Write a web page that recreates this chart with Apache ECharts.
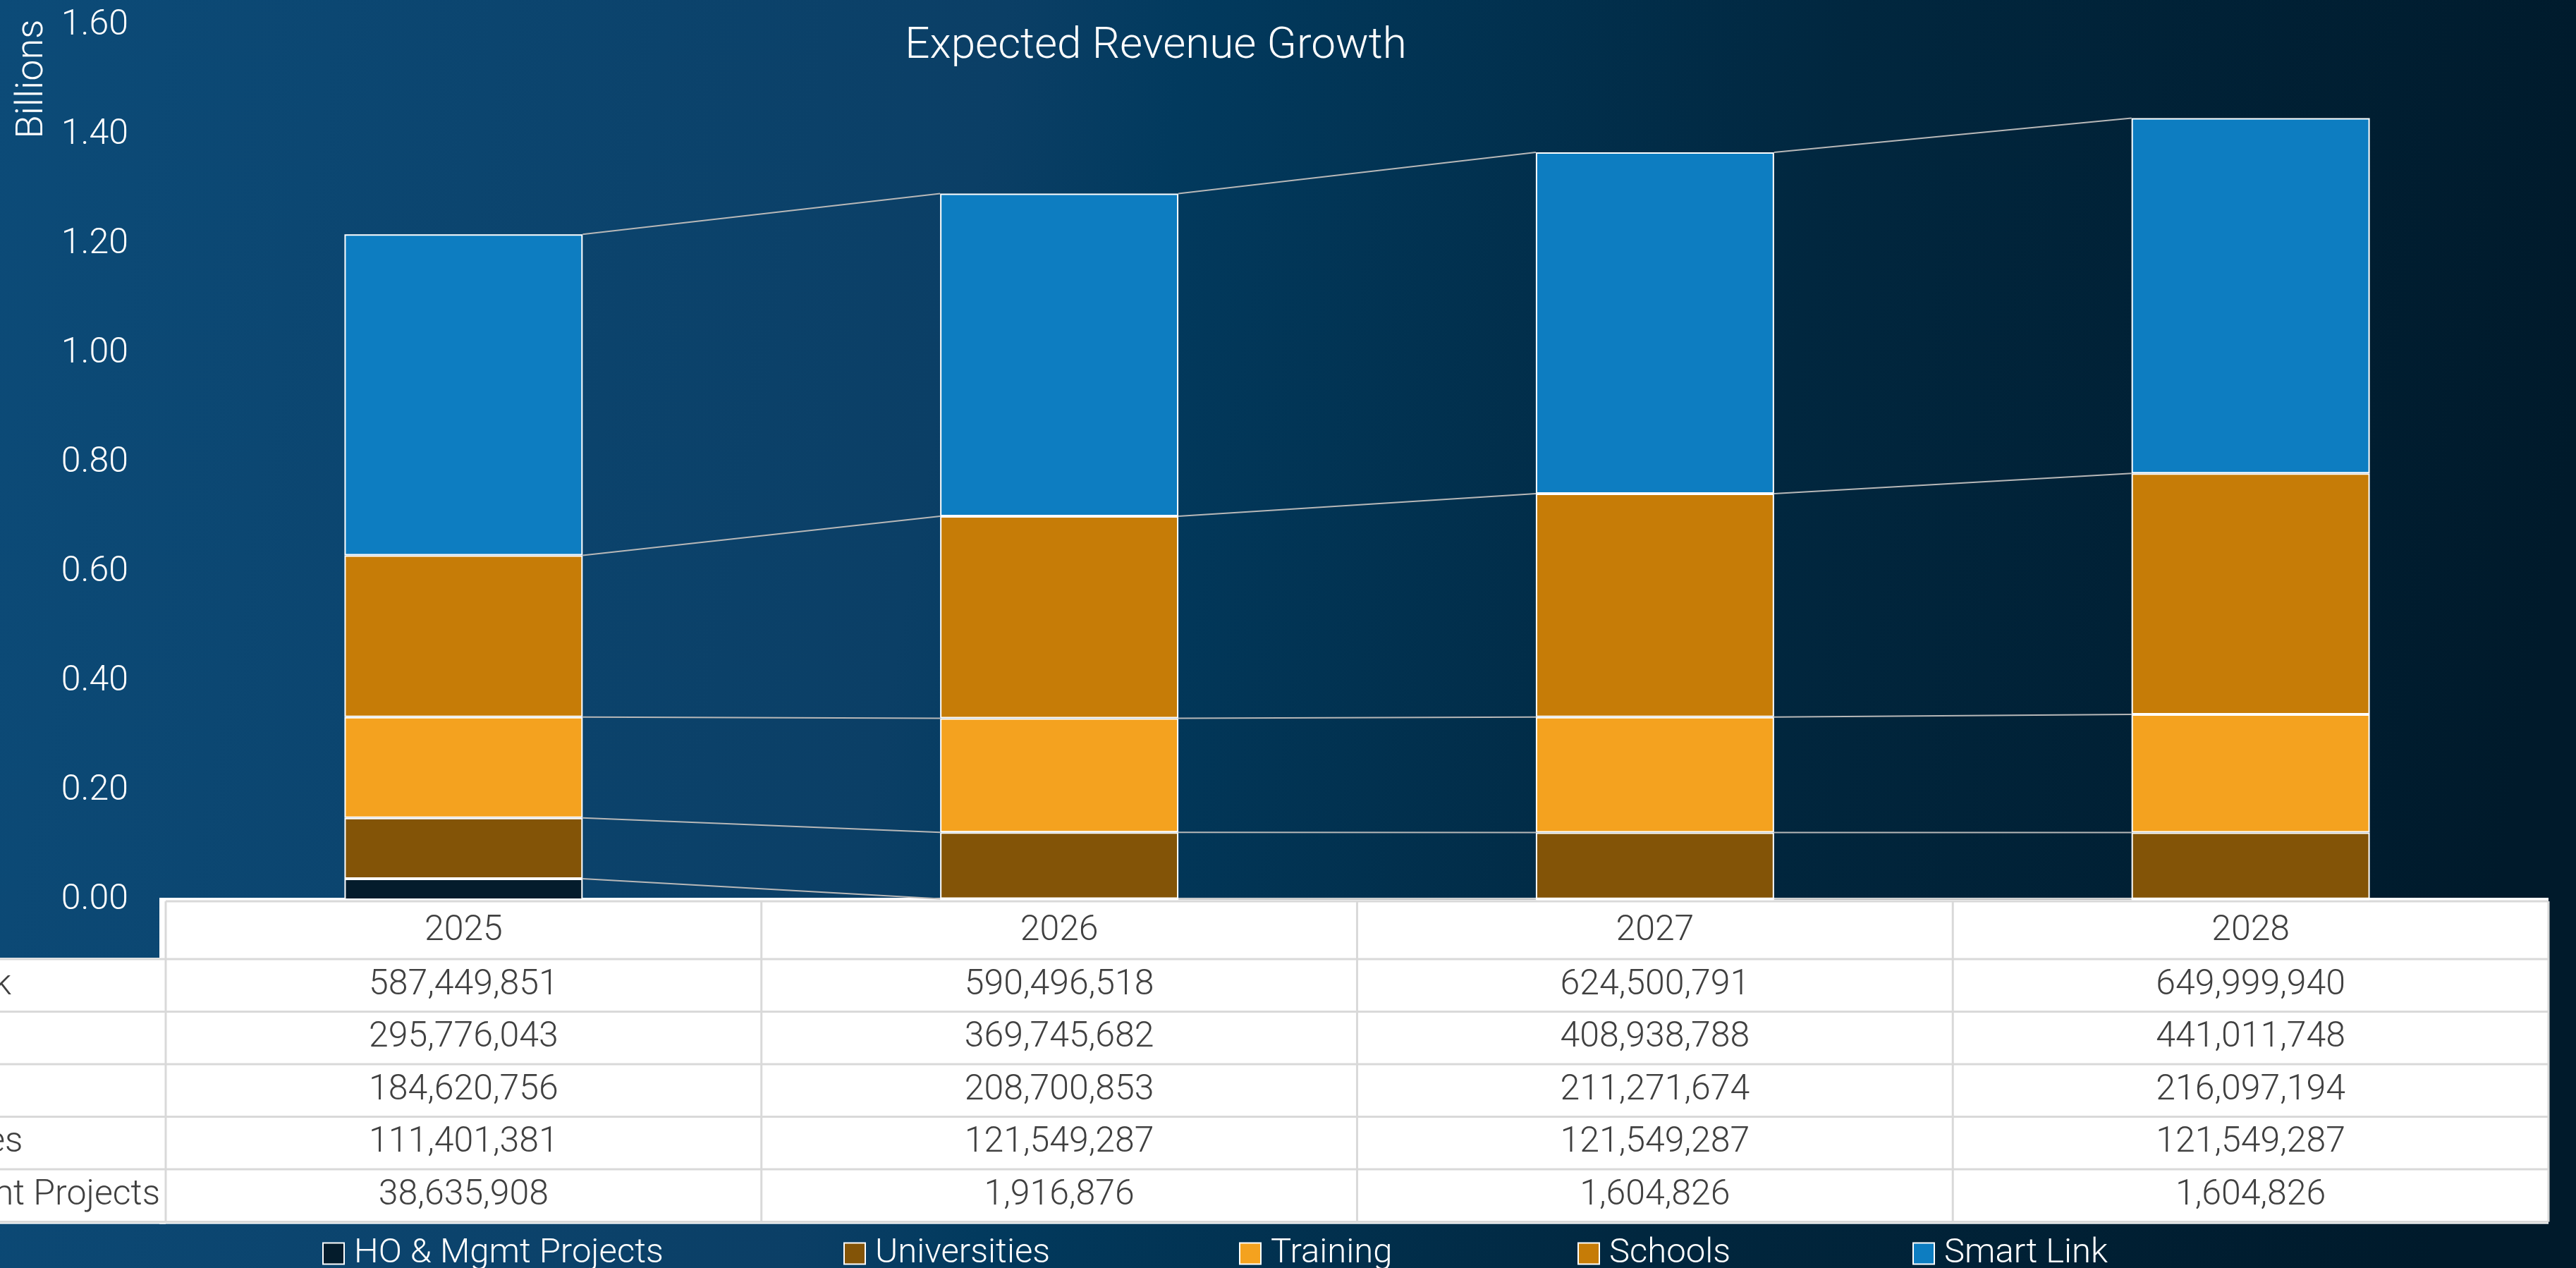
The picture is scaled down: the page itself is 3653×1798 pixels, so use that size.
<!DOCTYPE html>
<html>
<head>
<meta charset="utf-8">
<script src="https://cdn.jsdelivr.net/npm/echarts@6/dist/echarts.min.js"></script>
<style>
  html, body { margin: 0; padding: 0; background: #0b3e64; }
  #chart { width: 3653px; height: 1798px; }
</style>
</head>
<body>
<div id="chart"></div>
<script>
// Revenue by business line, per year (units)
const years = ['2025', '2026', '2027', '2028'];
const hoMgmtProjects = [38635908, 1916876, 1604826, 1604826];
const universities = [111401381, 121549287, 121549287, 121549287];
const training = [184620756, 208700853, 211271674, 216097194];
const schools = [295776043, 369745682, 408938788, 441011748];
const smartLink = [587449851, 590496518, 624500791, 649999940];

// Value axis ticks (units; labelled in billions)
const yMin = 0;
const yMax = 1.6e9;
const yStep = 0.2e9;

// Stack order, bottom to top
const stackOrder = [
  { name: 'HO & Mgmt Projects', values: hoMgmtProjects, color: '#041c2c' },
  { name: 'Universities',       values: universities,   color: '#835407' },
  { name: 'Training',           values: training,       color: '#f4a21f' },
  { name: 'Schools',            values: schools,        color: '#c67c07' },
  { name: 'Smart Link',         values: smartLink,      color: '#0d7dc1' }
];

// ---- layout ----
const W = 3653, H = 1798;
const FONT = 'Roboto';
const GRID_L = 235, GRID_R_X = 3614, GRID_TOP = 36, AXIS_Y = 1276;
const BAR_RATIO = 0.4;
const TABLE_TOP = AXIS_Y, HEADER_H = 84, ROW_H = 74.5;
const TABLE_FS = 50;
const LINE_C = '#d9d9d9';
const LEGEND_X = [452, 1191, 1752, 2232, 2707];

const fmt = v => v.toLocaleString('en-US');

// cumulative stack tops for the connector lines
const cumTops = years.map((_, i) => {
  let s = 0;
  return stackOrder.map(d => (s += d.values[i]));
});

const colW = (GRID_R_X - GRID_L) / years.length;
const rowsTopDown = stackOrder.slice().reverse();
const tableBottom = TABLE_TOP + HEADER_H + ROW_H * rowsTopDown.length;

// row label column: left aligned labels, longest one ends just before the first column
const mctx = document.createElement('canvas').getContext('2d');
mctx.font = `300 ${TABLE_FS}px ${FONT}`;
const longest = Math.max(...rowsTopDown.map(d => mctx.measureText(d.name).width));
const labelX = GRID_L - 8 - longest;

const graphics = [];
// white table panels
graphics.push({ type: 'rect', z: -1, shape: { x: GRID_L - 9, y: TABLE_TOP - 3, width: GRID_R_X - GRID_L + 9, height: tableBottom - TABLE_TOP + 6 }, style: { fill: '#ffffff' } });
graphics.push({ type: 'rect', z: -1, shape: { x: 0, y: TABLE_TOP + HEADER_H - 2, width: GRID_L, height: tableBottom - TABLE_TOP - HEADER_H + 5 }, style: { fill: '#ffffff' } });
// table top border (data columns only)
graphics.push({ type: 'line', shape: { x1: GRID_L, y1: TABLE_TOP + 2, x2: GRID_R_X, y2: TABLE_TOP + 2 }, style: { stroke: LINE_C, lineWidth: 3 } });
// row separators
for (let r = 0; r <= rowsTopDown.length; r++) {
  const y = TABLE_TOP + HEADER_H + r * ROW_H;
  graphics.push({ type: 'line', shape: { x1: 0, y1: y, x2: GRID_R_X, y2: y }, style: { stroke: LINE_C, lineWidth: 3 } });
}
// column separators
for (let c = 0; c <= years.length; c++) {
  const x = GRID_L + c * colW;
  graphics.push({ type: 'line', shape: { x1: x, y1: TABLE_TOP + 2, x2: x, y2: tableBottom }, style: { stroke: LINE_C, lineWidth: 3 } });
}
// header row
years.forEach((y, c) => {
  graphics.push({ type: 'text', x: GRID_L + (c + 0.5) * colW, y: TABLE_TOP + HEADER_H / 2 + 2,
    style: { text: y, fill: '#404040', font: `300 ${TABLE_FS}px ${FONT}`, textAlign: 'center', textVerticalAlign: 'middle' } });
});
// body rows
rowsTopDown.forEach((d, r) => {
  const cy = TABLE_TOP + HEADER_H + (r + 0.5) * ROW_H;
  graphics.push({ type: 'text', x: labelX, y: cy,
    style: { text: d.name, fill: '#404040', font: `300 ${TABLE_FS}px ${FONT}`, textAlign: 'left', textVerticalAlign: 'middle' } });
  d.values.forEach((v, c) => {
    graphics.push({ type: 'text', x: GRID_L + (c + 0.5) * colW, y: cy,
      style: { text: fmt(v), fill: '#404040', font: `300 ${TABLE_FS}px ${FONT}`, textAlign: 'center', textVerticalAlign: 'middle' } });
  });
});
// display unit label
graphics.push({ type: 'text', x: 46, y: 112, rotation: Math.PI / 2,
  style: { text: 'Billions', fill: '#ffffff', font: `300 54px ${FONT}`, textAlign: 'center', textVerticalAlign: 'middle' } });

const barSeries = stackOrder.map(d => ({
  name: d.name,
  type: 'bar',
  stack: 'total',
  barWidth: (BAR_RATIO * 100) + '%',
  data: d.values,
  itemStyle: { color: d.color, borderColor: '#ffffff', borderWidth: 2 },
  emphasis: { disabled: true },
  z: 3
}));

// series lines joining matching stack tops of neighbouring bars
const connectorSeries = {
  type: 'custom',
  silent: true,
  z: 1,
  data: years.slice(0, -1).map((_, i) => [i, 0]),
  encode: { x: 0, y: 1 },
  renderItem: (params, api) => {
    const i = api.value(0);
    const half = api.size([1, 0])[0] * BAR_RATIO / 2;
    const children = stackOrder.map((_, k) => {
      const p1 = api.coord([i, cumTops[i][k]]);
      const p2 = api.coord([i + 1, cumTops[i + 1][k]]);
      return { type: 'line', shape: { x1: p1[0] + half, y1: p1[1], x2: p2[0] - half, y2: p2[1] },
        style: { stroke: '#b8b8b8', lineWidth: 2 } };
    });
    return { type: 'group', children };
  }
};

// one legend entry per series, each placed on its own
const legends = stackOrder.map((d, k) => ({
  data: [d.name],
  left: LEGEND_X[k], top: 1748,
  itemWidth: 30, itemHeight: 30,
  icon: 'rect',
  selectedMode: false,
  textStyle: { color: '#ffffff', fontFamily: FONT, fontWeight: 300, fontSize: 49, padding: [0, 0, 0, 9] }
}));

const chart = echarts.init(document.getElementById('chart'), null, { renderer: 'canvas', width: W, height: H });
chart.setOption({
  animation: false,
  backgroundColor: {
    type: 'linear', x: 0, y: 0, x2: 1, y2: 0.35,
    colorStops: [
      { offset: 0, color: '#0c4b78' },
      { offset: 0.38, color: '#0b3f66' },
      { offset: 0.45, color: '#023a5e' },
      { offset: 0.7, color: '#01273f' },
      { offset: 1, color: '#001a2b' }
    ]
  },
  title: {
    text: 'Expected Revenue Growth',
    left: 1634, top: 30, textAlign: 'center',
    textStyle: { color: '#ffffff', fontFamily: FONT, fontWeight: 300, fontSize: 62 }
  },
  legend: legends,
  grid: { left: GRID_L, right: W - GRID_R_X, top: GRID_TOP, bottom: H - AXIS_Y, containLabel: false },
  xAxis: {
    type: 'category', data: years,
    axisLine: { show: false }, axisTick: { show: false }, axisLabel: { show: false }
  },
  yAxis: {
    type: 'value', min: yMin, max: yMax, interval: yStep,
    splitLine: { show: false }, axisLine: { show: false }, axisTick: { show: false },
    axisLabel: { color: '#ffffff', fontFamily: FONT, fontWeight: 300, fontSize: 50, margin: 53,
      formatter: v => (v / 1e9).toFixed(2) }
  },
  graphic: { elements: graphics },
  series: [connectorSeries, ...barSeries]
});
</script>
</body>
</html>
